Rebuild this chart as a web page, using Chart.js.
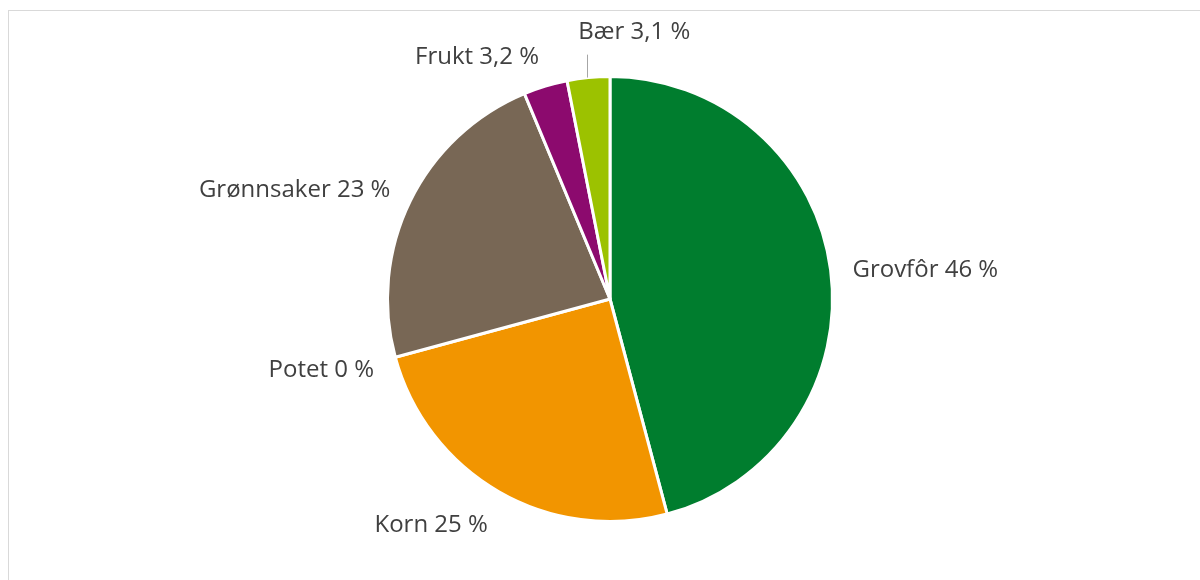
<!DOCTYPE html>
<html>
<head>
<meta charset="utf-8">
<script src="https://cdn.jsdelivr.net/npm/chart.js@4"></script>
<style>
  html, body { margin: 0; padding: 0; background: #fff; }
  #wrap { position: relative; width: 1200px; height: 580px; overflow: hidden; }
  #frame { position: absolute; left: 8px; top: 10px; width: 1300px; height: 700px; border: 1px solid #d9d9d9; border-width: 1px 0 0 1px; box-sizing: border-box; }
  #canvas { position: absolute; left: 0; top: 0; }
</style>
</head>
<body>
<div id="wrap">
  <div id="frame"></div>
  <canvas id="canvas" width="1200" height="580"></canvas>
</div>
<script>
let categories = ['Grovfôr', 'Korn', 'Potet', 'Grønnsaker', 'Frukt', 'Bær']
let shares = [46, 25, 0, 23, 3.2, 3.1]
let shareLabels = ['46 %', '25 %', '0 %', '23 %', '3,2 %', '3,1 %']
let colors = ['#007d2e', '#f29500', '#b0b0b0', '#786755', '#8c0a6e', '#9cc200']

// outside-end labels, placed from each arc's own angle and radius
let outsideLabels = {
  id: 'outsideLabels',
  afterDatasetsDraw: function(chart) {
    let ctx = chart.ctx
    let meta = chart.getDatasetMeta(0)
    ctx.save()
    ctx.font = '24px "Open Sans"'
    ctx.fillStyle = '#404040'
    meta.data.forEach(function(arc, i) {
      let text = categories[i] + ' ' + shareLabels[i]
      let mid = (arc.startAngle + arc.endAngle) / 2
      let c = Math.cos(mid), s = Math.sin(mid)
      let r = arc.outerRadius + 22
      let ax = arc.x + c * r, ay = arc.y + s * r
      let h = 24
      if (Math.abs(c) < 0.15 && arc.endAngle - arc.startAngle < 0.25) {
        // small slice at the top: leader line, text above
        ctx.strokeStyle = '#a6a6a6'
        ctx.lineWidth = 1
        ctx.beginPath()
        ctx.moveTo(Math.round(ax) + 1.5, arc.y + s * arc.outerRadius)
        ctx.lineTo(Math.round(ax) + 1.5, ay - 1)
        ctx.stroke()
        ctx.textAlign = 'left'
        ctx.textBaseline = 'middle'
        ctx.fillText(text, ax - 8, ay - 23)
        return
      }
      ctx.textAlign = c >= 0 ? 'left' : 'right'
      ctx.textBaseline = 'middle'
      ctx.fillText(text, ax, ay + s * h / 2 + 4)
    })
    ctx.restore()
  }
}

let ctx = document.getElementById('canvas').getContext('2d')

window.my_chart = new Chart(ctx, {
  type: 'pie',
  data: {
    labels: categories,
    datasets: [{
      data: shares,
      backgroundColor: colors,
      borderColor: '#ffffff',
      borderWidth: 3
    }]
  },
  options: {
    responsive: false,
    animation: false,
    layout: { padding: { top: 75, bottom: 57, left: 30, right: 10 } },
    plugins: {
      legend: { display: false },
      tooltip: { enabled: false }
    }
  },
  plugins: [outsideLabels]
})
</script>
</body>
</html>
